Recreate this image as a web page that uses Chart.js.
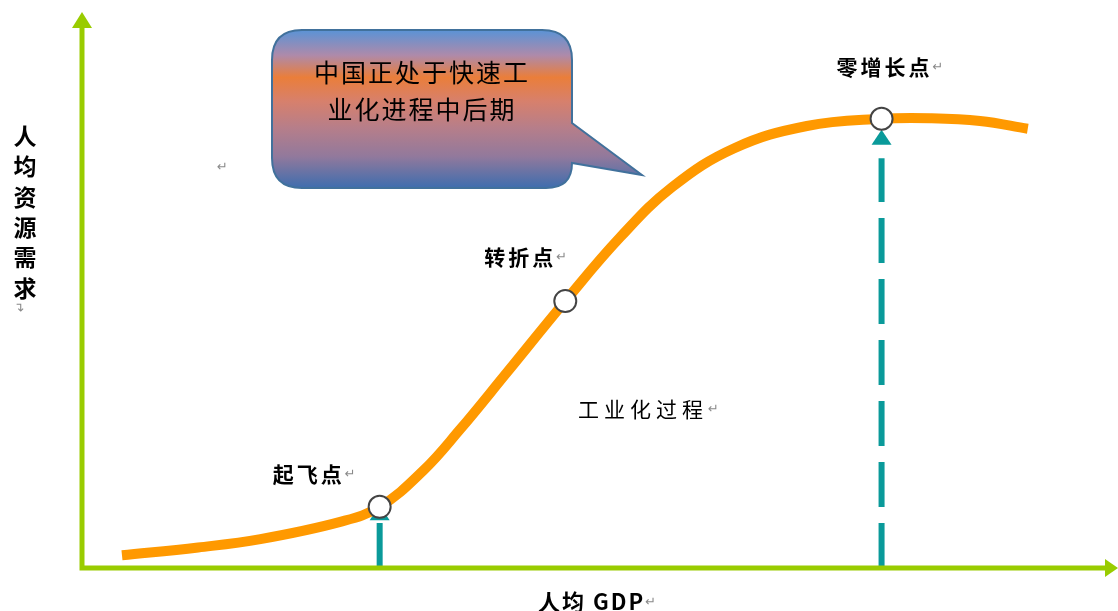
<!DOCTYPE html>
<html>
<head>
<meta charset="utf-8">
<script src="https://cdn.jsdelivr.net/npm/chart.js@4.4.1/dist/chart.umd.min.js"></script>
<style>
  html, body { margin: 0; padding: 0; background: #fff; }
  #wrap { width: 1118px; height: 611px; }
</style>
</head>
<body>
<div id="wrap"><canvas id="myChart" width="1118" height="611"></canvas></div>
<script>
// S-curve: per-capita GDP (x) vs per-capita resource demand (y), both 0-100
var gdp = [3.95, 11.3, 17.3, 25.0, 28.8, 33.0, 36.5, 41.0, 46.7, 52.0, 57.0, 63.0, 70.0, 77.2, 81.9, 86.7, 91.3];
var demand = [2.3, 3.7, 5.2, 8.3, 11.0, 17.5, 24.8, 35.0, 48.0, 59.5, 68.5, 75.5, 79.5, 80.8, 80.9, 80.4, 79.0];

var markNames = ['起飞点', '转折点', '零增长点'];
var markGdp = [28.8, 46.7, 77.2];
var markDemand = [11.0, 48.0, 80.8];

// teal drop lines (take-off and zero-growth points)
var dropGdp = [28.8, 77.2];
var dropTop = [8.1, 73.7];
var dropArrowTip = [11.3, 78.8];

var bubbleLines = ['中国正处于快速工', '业化进程中后期'];
var yTitle = ['人', '均', '资', '源', '需', '求'];
var xTitle = '人均 GDP';
var stageLabel = '工业化过程';

var GREEN = '#99CC00';
var ORANGE = '#FF9900';
var TEAL = '#0A9A9A';
var CJK = '"Noto Sans CJK SC", "Noto Sans", sans-serif';

function toXY(xs, ys) {
  return xs.map(function (x, i) { return { x: x, y: ys[i] }; });
}

var datasets = [
  {
    label: 'marks',
    data: toXY(markGdp, markDemand),
    showLine: false,
    pointStyle: 'circle',
    pointRadius: 11,
    pointBackgroundColor: '#ffffff',
    pointBorderColor: '#444444',
    pointBorderWidth: 2,
    order: 0,
  },
  {
    label: 'curve',
    data: toXY(gdp, demand),
    showLine: true,
    borderColor: ORANGE,
    borderWidth: 10,
    borderCapStyle: 'butt',
    tension: 0.4,
    pointRadius: 0,
    order: 1,
  },
];
dropGdp.forEach(function (x, i) {
  datasets.push({
    label: 'drop' + i,
    data: [{ x: x, y: 0 }, { x: x, y: dropTop[i] }],
    showLine: true,
    borderColor: TEAL,
    borderWidth: 6,
    borderDash: [45, 16],
    borderCapStyle: 'butt',
    pointRadius: 0,
    order: 2,
  });
});

function returnMark(ctx, x, y) {
  ctx.save();
  ctx.font = '13px "DejaVu Sans", sans-serif';
  ctx.fillStyle = '#8a8a8a';
  ctx.letterSpacing = '0px';
  ctx.textAlign = 'left';
  ctx.textBaseline = 'middle';
  ctx.fillText('↵', x, y + 1);
  ctx.restore();
}

function drawLabel(ctx, text, x, y, font, spacing, mark) {
  ctx.save();
  ctx.font = font;
  ctx.letterSpacing = spacing + 'px';
  ctx.fillStyle = '#000';
  ctx.textAlign = 'left';
  ctx.textBaseline = 'middle';
  ctx.fillText(text, x, y);
  var w = ctx.measureText(text).width;
  ctx.restore();
  if (mark) returnMark(ctx, x + w, y);
}

var dropArrows = {
  id: 'dropArrows',
  beforeDatasetsDraw: function (chart) {
    var ctx = chart.ctx, xs = chart.scales.x, ys = chart.scales.y;
    ctx.save();
    ctx.fillStyle = TEAL;
    dropGdp.forEach(function (g, i) {
      var px = xs.getPixelForValue(g);
      var tip = ys.getPixelForValue(dropArrowTip[i]);
      ctx.beginPath();
      ctx.moveTo(px, tip);
      ctx.lineTo(px + 10, tip + 15);
      ctx.lineTo(px - 10, tip + 15);
      ctx.closePath();
      ctx.fill();
    });
    ctx.restore();
  },
};

var axesArrows = {
  id: 'axesArrows',
  afterDatasetsDraw: function (chart) {
    var ctx = chart.ctx, a = chart.chartArea;
    var x0 = a.left + 1, y0 = a.bottom;
    ctx.save();
    ctx.strokeStyle = GREEN;
    ctx.fillStyle = GREEN;
    ctx.lineWidth = 5;
    ctx.beginPath();
    ctx.moveTo(x0, a.top + 14);
    ctx.lineTo(x0, y0);
    ctx.lineTo(a.right - 12, y0);
    ctx.stroke();
    // arrow heads
    ctx.beginPath();
    ctx.moveTo(x0, a.top);
    ctx.lineTo(x0 + 10, a.top + 16);
    ctx.lineTo(x0 - 10, a.top + 16);
    ctx.closePath();
    ctx.fill();
    ctx.beginPath();
    ctx.moveTo(a.right, y0);
    ctx.lineTo(a.right - 13, y0 - 9);
    ctx.lineTo(a.right - 13, y0 + 9);
    ctx.closePath();
    ctx.fill();
    ctx.restore();
  },
};

var texts = {
  id: 'texts',
  afterDraw: function (chart) {
    var ctx = chart.ctx, xs = chart.scales.x, ys = chart.scales.y;

    // callout bubble
    var l = 272, t = 30, r = 572, b = 188, rad = 30;
    ctx.save();
    ctx.beginPath();
    ctx.moveTo(l + rad, t);
    ctx.lineTo(r - rad, t);
    ctx.quadraticCurveTo(r, t, r, t + rad);
    ctx.lineTo(r, 123);
    ctx.lineTo(642, 175);
    ctx.lineTo(r, 163);
    ctx.quadraticCurveTo(r, b, r - 26, b);
    ctx.lineTo(l + rad, b);
    ctx.quadraticCurveTo(l, b, l, b - rad);
    ctx.lineTo(l, t + rad);
    ctx.quadraticCurveTo(l, t, l + rad, t);
    ctx.closePath();
    var grad = ctx.createLinearGradient(0, t, 0, b);
    grad.addColorStop(0, '#5A93D6');
    grad.addColorStop(0.16, '#AE8AAA');
    grad.addColorStop(0.3, '#EA7E3A');
    grad.addColorStop(0.45, '#D7806C');
    grad.addColorStop(0.62, '#B67E8A');
    grad.addColorStop(0.8, '#92799C');
    grad.addColorStop(1, '#3E6DAE');
    ctx.fillStyle = grad;
    ctx.fill();
    ctx.strokeStyle = '#41719C';
    ctx.lineWidth = 2;
    ctx.stroke();
    ctx.font = '25px ' + CJK;
    ctx.letterSpacing = '2px';
    ctx.fillStyle = '#000';
    ctx.textAlign = 'center';
    ctx.textBaseline = 'middle';
    ctx.fillText(bubbleLines[0], 422, 72);
    ctx.fillText(bubbleLines[1], 422, 109);
    ctx.restore();

    // point labels, offsets from each circle
    var offsets = [[-107, -33], [-81, -44], [-45, -52]];
    markNames.forEach(function (name, i) {
      var px = xs.getPixelForValue(markGdp[i]);
      var py = ys.getPixelForValue(markDemand[i]);
      drawLabel(ctx, name, px + offsets[i][0], py + offsets[i][1], 'bold 21px ' + CJK, 3, true);
    });

    drawLabel(ctx, stageLabel, 578, 409, '21px ' + CJK, 5, true);
    drawLabel(ctx, xTitle, 538, 602, 'bold 22px ' + CJK, 2, true);

    // vertical y title
    ctx.save();
    ctx.font = 'bold 23px ' + CJK;
    ctx.fillStyle = '#000';
    ctx.textAlign = 'center';
    ctx.textBaseline = 'middle';
    yTitle.forEach(function (ch, i) {
      ctx.fillText(ch, 25, 136 + i * 30.4);
    });
    ctx.restore();
    ctx.save();
    ctx.translate(21, 306);
    ctx.rotate(-Math.PI / 2);
    returnMark(ctx, -6, 0);
    ctx.restore();

    returnMark(ctx, 217, 167);
  },
};

var ctx = document.getElementById('myChart').getContext('2d');
var myChart = new Chart(ctx, {
  type: 'scatter',
  data: { datasets: datasets },
  options: {
    responsive: false,
    animation: false,
    devicePixelRatio: 1,
    layout: { autoPadding: false, padding: { left: 81, right: 0, top: 12, bottom: 43 } },
    scales: {
      x: { type: 'linear', min: 0, max: 100, display: false },
      y: { type: 'linear', min: 0, max: 100, display: false },
    },
    elements: { line: { fill: false } },
    datasets: { scatter: { clip: false } },
    plugins: {
      legend: { display: false },
      tooltip: { enabled: false },
    },
  },
  plugins: [dropArrows, axesArrows, texts],
});
</script>
</body>
</html>
